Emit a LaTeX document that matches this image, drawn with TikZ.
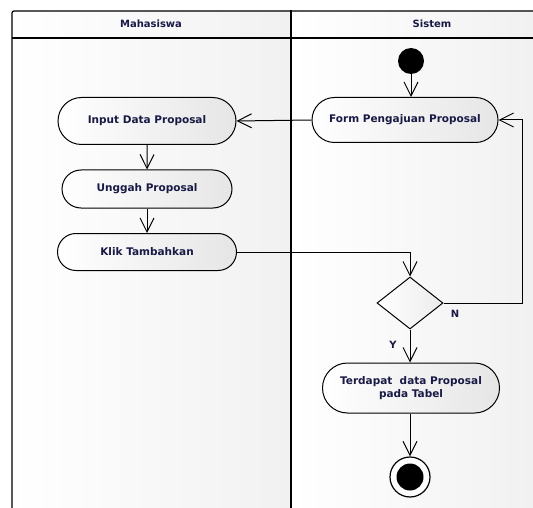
\documentclass[tikz,border=0pt]{standalone}
\usepackage{fontspec}
\setmainfont{DejaVu Sans}
\usetikzlibrary{arrows.meta,shapes.misc,shapes.geometric}
\definecolor{txt}{RGB}{25,25,70}
\tikzset{
  act/.style={rounded rectangle, draw=black, line width=1pt, left color=white, right color=gray!20,
     font=\bfseries\fontsize{10.5}{13}\selectfont, text=txt, align=center, inner sep=0pt},
  flow/.style={line width=1pt, -{Straight Barb[length=14pt,width=14pt,line width=1pt]}},
  lane/.style={left color=white, right color=gray!11, draw=none},
  hdr/.style={font=\bfseries\fontsize{10}{12}\selectfont, text=txt},
  lbl/.style={font=\bfseries\fontsize{10}{12}\selectfont, text=txt}
}
\begin{document}
\begin{tikzpicture}[x=1pt,y=-1pt]
\useasboundingbox (0,0) rectangle (533,508);
\fill[white] (0,0) rectangle (533,508);
% lanes
\shade[lane] (12,11) rectangle (290,508);
\shade[lane] (292,11) rectangle (533,508);
\draw[line width=1.2pt] (533,11) -- (14,11) to[out=180,in=90] (12,13) -- (12,508);
\draw[line width=1.2pt] (12,38) -- (533,38);
\draw[line width=2.4pt] (291,10) -- (291,508);
\node[hdr] (h1) at (151,24) {Mahasiswa};
\node[hdr] (h2) at (432,24) {Sistem};
% nodes
\node[circle, fill=black, minimum size=26pt, inner sep=0pt] (start) at (411,61) {};
\node[act, minimum width=186pt, minimum height=45pt] (form) at (405,120) {Form Pengajuan Proposal};
\node[act, minimum width=178pt, minimum height=47pt] (input) at (147,121) {Input Data Proposal};
\node[act, minimum width=170pt, minimum height=38pt] (unggah) at (147,189) {Unggah Proposal};
\node[act, minimum width=179pt, minimum height=37pt] (klik) at (147,252) {Klik Tambahkan};
\node[diamond, draw=black, line width=1pt, left color=white, right color=gray!15, minimum width=66pt, minimum height=52pt, inner sep=0pt] (dec) at (410,303) {};
\node[act, minimum width=177pt, minimum height=50pt] (terd) at (411,388) {Terdapat\ \ data Proposal\\pada Tabel};
\node[circle, draw=black, line width=1.2pt, fill=white, minimum size=40pt, inner sep=0pt] (final) at (410,477) {};
\node[circle, fill=black, minimum size=27pt, inner sep=0pt] (finalin) at (final.center) {};
\coordinate (nr) at (522,303);
\coordinate (nt) at (522,120);
% edges
\draw[flow] (start) -- (form.north -| start);
\draw[flow] (form.west) -- (input.east);
\draw[flow] (input) -- (unggah);
\draw[flow] (unggah) -- (klik);
\draw[flow] (klik.east) -| (dec.north);
\draw[flow] (dec.east) -- (nr) -- (nt) -- (form.east);
\draw[flow] (dec.south) -- (terd.north -| dec.south);
\draw[flow] (terd.south -| final) -- (final.north);
\node[lbl] (n) at (455,314) {N};
\node[lbl] (y) at (393,345) {Y};
\end{tikzpicture}
\end{document}
